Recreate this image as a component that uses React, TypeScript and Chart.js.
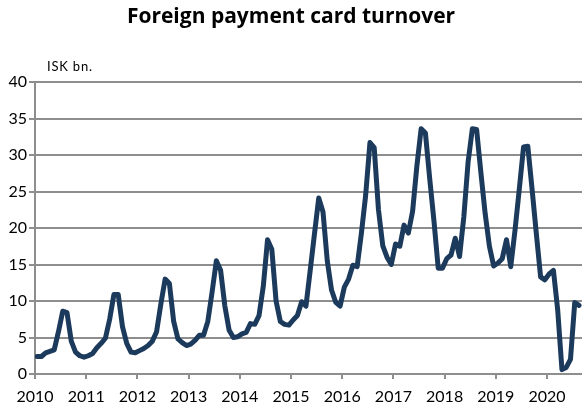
import React, { useEffect, useRef } from "react";
import { Chart, registerables } from "chart.js";

Chart.register(...registerables);

const chartTitle = "Foreign payment card turnover";
const unitLabel = "ISK bn.";
const yearLabels = ["2010", "2011", "2012", "2013", "2014", "2015", "2016", "2017", "2018", "2019", "2020"];
const yTickValues = [0, 5, 10, 15, 20, 25, 30, 35, 40];

// Monthly turnover, ISK bn. (Jan..Dec)
const v2010 = [2.4, 2.4, 2.9, 3.1, 3.3, 5.8, 8.6, 8.4, 4.5, 3.0, 2.5, 2.3];
const v2011 = [2.5, 2.8, 3.6, 4.2, 4.9, 7.5, 10.9, 10.9, 6.5, 4.2, 3.0, 2.9];
const v2012 = [3.2, 3.5, 3.9, 4.5, 5.8, 9.6, 13.0, 12.4, 7.2, 4.8, 4.3, 3.9];
const v2013 = [4.1, 4.6, 5.3, 5.3, 7.2, 11.2, 15.5, 14.2, 9.3, 6.0, 5.0, 5.1];
const v2014 = [5.5, 5.7, 6.9, 6.8, 8.0, 12.0, 18.4, 17.1, 10.0, 7.2, 6.8, 6.7];
const v2015 = [7.4, 8.0, 9.9, 9.3, 14.2, 19.2, 24.1, 22.2, 15.5, 11.5, 9.8, 9.3];
const v2016 = [11.9, 13.0, 14.9, 14.7, 19.3, 24.5, 31.7, 31.0, 22.5, 17.6, 16.0, 15.0];
const v2017 = [17.8, 17.5, 20.4, 19.3, 22.3, 28.5, 33.6, 33.0, 26.8, 21.0, 14.5, 14.5];
const v2018 = [15.8, 16.3, 18.6, 16.1, 21.5, 29.0, 33.6, 33.5, 27.6, 22.0, 17.5, 14.8];
const v2019 = [15.2, 15.8, 18.4, 14.7, 19.7, 25.3, 31.1, 31.2, 25.3, 19.2, 13.3, 12.9];
const v2020 = [13.7, 14.2, 8.8, 0.6, 0.9, 2.0, 9.8, 9.4];

const monthly = [...v2010, ...v2011, ...v2012, ...v2013, ...v2014, ...v2015, ...v2016, ...v2017, ...v2018, ...v2019, ...v2020];

const textPlugin = {
  id: "chartTexts",
  afterDraw(chart: any) {
    const ctx = chart.ctx as CanvasRenderingContext2D;
    ctx.save();
    ctx.fillStyle = "#000";
    ctx.font = "bold 21px 'Open Sans'";
    ctx.textAlign = "center";
    ctx.textBaseline = "alphabetic";
    ctx.fillText(chartTitle, 291, 23);
    ctx.font = "13px Lato";
    ctx.textAlign = "left";
    try {
      (ctx as any).letterSpacing = "0.8px";
    } catch (e) {}
    ctx.fillText(unitLabel, 47, 71);
    ctx.restore();
  },
};

export default function App() {
  const ref = useRef<HTMLCanvasElement | null>(null);

  useEffect(() => {
    document.body.style.margin = "0";
    const canvas = ref.current;
    if (!canvas) return;
    const gridColor = "#8e8e8e";
    const chart = new Chart(canvas, {
      type: "line",
      data: {
        datasets: [
          {
            data: monthly.map((v, i) => ({ x: i + 0.5, y: v })),
            borderColor: "#1c3a5c",
            borderWidth: 5,
            pointRadius: 0,
            tension: 0,
            borderJoinStyle: "round",
            borderCapStyle: "round",
            fill: false,
          },
        ],
      },
      options: {
        animation: false,
        responsive: false,
        devicePixelRatio: 1,
        layout: { padding: { top: 82, right: 0, left: 0, bottom: 0 } },
        plugins: {
          legend: { display: false },
          title: { display: false },
          tooltip: { enabled: false },
        },
        scales: {
          x: {
            type: "linear",
            min: 0,
            max: 128.2,
            afterFit: (scale: any) => {
              scale.height = 35;
            },
            afterBuildTicks: (scale: any) => {
              scale.ticks = yearLabels.map((_, k) => ({ value: k * 12 }));
            },
            ticks: {
              autoSkip: false,
              maxRotation: 0,
              padding: 8,
              color: "#000",
              font: { family: "Lato", size: 16 },
              callback: (value: any) => yearLabels[Math.round(Number(value) / 12)] ?? "",
            },
            grid: {
              drawOnChartArea: false,
              drawTicks: true,
              tickLength: 5,
              color: gridColor,
              lineWidth: 2,
            },
            border: { display: true, color: gridColor, width: 2 },
          },
          y: {
            min: 0,
            max: 40,
            afterFit: (scale: any) => {
              scale.width = 35;
            },
            afterBuildTicks: (scale: any) => {
              scale.ticks = yTickValues.map((v) => ({ value: v }));
            },
            ticks: {
              padding: 2,
              color: "#000",
              font: { family: "Lato", size: 16 },
            },
            grid: {
              color: gridColor,
              lineWidth: 2,
              tickLength: 6,
            },
            border: { display: true, color: gridColor, width: 2 },
          },
        },
      },
      plugins: [textPlugin],
    });
    return () => chart.destroy();
  }, []);

  return (
    <div style={{ position: "absolute", left: 0, top: 0, width: 582, height: 409 }}>
      <canvas ref={ref} width={582} height={409} />
    </div>
  );
}
